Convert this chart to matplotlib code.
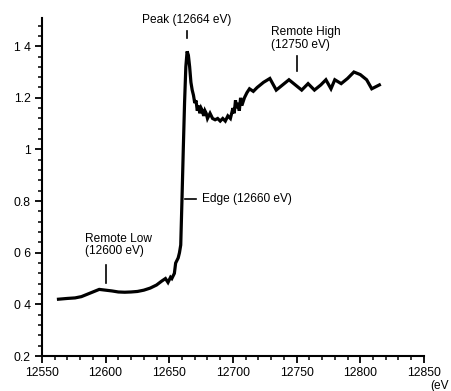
import numpy as np
import matplotlib.pyplot as plt
from matplotlib.ticker import MultipleLocator

plt.rcParams['font.family'] = ['Liberation Sans', 'DejaVu Sans']

# XANES spectrum
energy = [12563, 12570, 12576, 12581, 12586, 12591, 12595, 12600, 12605, 12610,
          12615, 12620, 12625, 12630, 12635, 12640, 12644, 12647, 12649, 12651,
          12652, 12654, 12655, 12657, 12658, 12659, 12660, 12661, 12662, 12663,
          12664, 12665, 12666, 12667, 12668, 12669, 12670, 12671, 12672, 12673,
          12674, 12675, 12676, 12677, 12678, 12679, 12680, 12682, 12684, 12686,
          12688, 12690, 12692, 12694, 12696, 12698, 12700, 12701, 12702, 12703,
          12704, 12705, 12706, 12707, 12709, 12711, 12713, 12716, 12719, 12724,
          12729, 12734, 12739, 12744, 12749, 12754, 12759, 12764, 12769, 12773,
          12777, 12780, 12785, 12790, 12795, 12800, 12805, 12809, 12815]
absorb = [0.42, 0.423, 0.425, 0.43, 0.44, 0.45, 0.458, 0.455, 0.452, 0.448,
          0.447, 0.448, 0.45, 0.455, 0.463, 0.475, 0.49, 0.50, 0.485, 0.505,
          0.50, 0.52, 0.56, 0.58, 0.60, 0.63, 0.81, 1.0, 1.18, 1.32,
          1.38, 1.365, 1.32, 1.26, 1.23, 1.21, 1.18, 1.19, 1.15, 1.17,
          1.14, 1.16, 1.15, 1.13, 1.15, 1.14, 1.12, 1.14, 1.12, 1.115,
          1.12, 1.11, 1.12, 1.11, 1.13, 1.12, 1.16, 1.14, 1.19, 1.16,
          1.18, 1.15, 1.20, 1.17, 1.20, 1.22, 1.235, 1.225, 1.24, 1.26,
          1.275, 1.23, 1.25, 1.27, 1.25, 1.23, 1.255, 1.23, 1.25, 1.27,
          1.235, 1.27, 1.255, 1.275, 1.30, 1.29, 1.27, 1.235, 1.25]

x_ticks = [12550, 12600, 12650, 12700, 12750, 12800, 12850]
y_ticks = [0.2, 0.4, 0.6, 0.8, 1.0, 1.2, 1.4]
y_labels = ['0.2', '0 4', '0 6', '0.8', '1', '1.2', '1 4']

fig = plt.figure(figsize=(4.51, 3.91), dpi=100)
ax = fig.add_axes([0.093, 0.0895, 0.847, 0.865])

ax.plot(energy, absorb, color='black', lw=2.3, solid_joinstyle='miter')

ax.set_xlim(12550, 12850)
ax.set_ylim(0.2, 1.51)
ax.set_xticks(x_ticks)
ax.set_yticks(y_ticks)
ax.set_yticklabels(y_labels)
ax.xaxis.set_minor_locator(MultipleLocator(10))
ax.yaxis.set_minor_locator(MultipleLocator(0.04))
for s in ['top', 'right']:
    ax.spines[s].set_visible(False)
for s in ['left', 'bottom']:
    ax.spines[s].set_linewidth(1.5)
ax.tick_params(which='major', length=5, width=1.3, labelsize=8.8, pad=3)
ax.tick_params(which='minor', length=3, width=1.1)

fs = 8.6
# annotations
ax.text(12664, 1.50, 'Peak (12664 eV)', ha='center', va='center', fontsize=fs)
ax.plot([12664, 12664], [1.43, 1.46], color='black', lw=1.2)

ax.plot([12662, 12671], [0.81, 0.81], color='black', lw=1.2)
ax.text(12676, 0.81, 'Edge (12660 eV)', ha='left', va='center', fontsize=fs)

ax.text(12584, 0.63, 'Remote Low\n(12600 eV)', ha='left', va='center',
        fontsize=fs, linespacing=1.1)
ax.plot([12600, 12600], [0.483, 0.553], color='black', lw=1.2)

ax.text(12730, 1.43, 'Remote High\n(12750 eV)', ha='left', va='center',
        fontsize=fs, linespacing=1.1)
ax.plot([12750, 12750], [1.305, 1.363], color='black', lw=1.2)

fig.text(0.955, 0.012, '(eV', ha='left', va='center', fontsize=fs)

fig.savefig('out.png', dpi=100)
